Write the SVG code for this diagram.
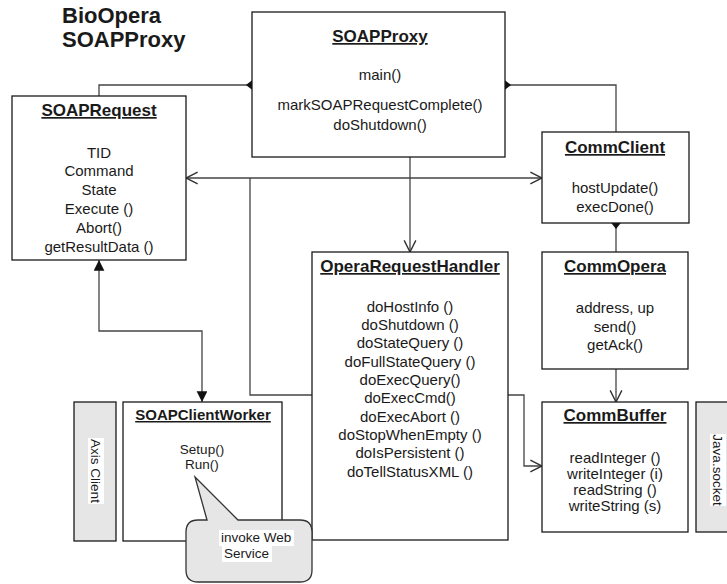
<svg xmlns="http://www.w3.org/2000/svg" width="727" height="584" viewBox="0 0 727 584">
<style>
  .box { fill: #ffffff; stroke: #1a1a1a; stroke-width: 1.3; }
  .side { fill: #e6e6e6; stroke: #1a1a1a; stroke-width: 1.3; }
  .t { font-family: "Liberation Sans", Arial, sans-serif; fill: #1a1a1a; text-anchor: middle; }
  .title { font-size: 17px; font-weight: bold; text-decoration: underline; }
  .body { font-size: 15px; }
  .small { font-size: 13.5px; }
  .conn { fill: none; stroke: #444; stroke-width: 1.3; }
  .head { font-family: "Liberation Sans", Arial, sans-serif; font-size: 22px; font-weight: bold; fill: #1a1a1a; }
</style>
<defs>
  <marker id="open" markerUnits="userSpaceOnUse" markerWidth="14" markerHeight="14" refX="10" refY="5" orient="auto-start-reverse" viewBox="-1 -1 12 12">
    <path d="M0,0 L10,5 L0,10" fill="none" stroke="#333" stroke-width="1.2"/>
  </marker>
  <marker id="filled" markerUnits="userSpaceOnUse" markerWidth="12" markerHeight="12" refX="9" refY="4.5" orient="auto-start-reverse" viewBox="0 0 10 10">
    <path d="M0,0 L9,4.5 L0,9 Z" fill="#111"/>
  </marker>
  <marker id="diamond" markerUnits="userSpaceOnUse" markerWidth="12" markerHeight="12" refX="5" refY="4" orient="auto" viewBox="0 0 10 8">
    <path d="M0,4 L5,0 L10,4 L5,8 Z" fill="#111"/>
  </marker>
</defs>

<g id="heading">
  <text class="head" x="62" y="23">BioOpera</text>
  <text class="head" x="62" y="47">SOAPProxy</text>
</g>

<g id="connectors">
  <path class="conn" d="M252,85 H99 V96" marker-start="url(#diamond)"/>
  <path class="conn" d="M505,85 H616 V132" marker-start="url(#diamond)"/>
  <path class="conn" d="M410,157 V252" marker-end="url(#open)"/>
  <path class="conn" d="M186,178 H542" marker-start="url(#open)" marker-end="url(#open)"/>
  <path class="conn" d="M312,395 H250 V178"/>
  <path class="conn" d="M508,395 H524 V466 H542" marker-end="url(#open)"/>
  <path class="conn" d="M616,223 V252" marker-start="url(#diamond)"/>
  <path class="conn" d="M616,369 V402" marker-end="url(#open)"/>
  <path class="conn" d="M99,260 V331 H202 V402" marker-start="url(#filled)" marker-end="url(#filled)"/>
</g>

<g id="SOAPProxy">
  <rect class="box" x="252" y="12" width="253" height="145"/>
  <text class="t title" x="380" y="42">SOAPProxy</text>
  <text class="t body" x="380" y="80">main()</text>
  <text class="t body" x="380" y="110">markSOAPRequestComplete()</text>
  <text class="t body" x="380" y="130">doShutdown()</text>
</g>

<g id="SOAPRequest">
  <rect class="box" x="12" y="96" width="174" height="164"/>
  <text class="t title" x="99" y="116">SOAPRequest</text>
  <text class="t body" x="99" y="158">TID</text>
  <text class="t body" x="99" y="176">Command</text>
  <text class="t body" x="99" y="195">State</text>
  <text class="t body" x="99" y="214">Execute ()</text>
  <text class="t body" x="99" y="233">Abort()</text>
  <text class="t body" x="99" y="252">getResultData ()</text>
</g>

<g id="CommClient">
  <rect class="box" x="542" y="132" width="147" height="91"/>
  <text class="t title" x="615" y="153">CommClient</text>
  <text class="t body" x="615" y="193">hostUpdate()</text>
  <text class="t body" x="615" y="212">execDone()</text>
</g>

<g id="OperaRequestHandler">
  <rect class="box" x="312" y="252" width="196" height="288"/>
  <text class="t title" x="410" y="272">OperaRequestHandler</text>
  <text class="t body" x="410" y="312">doHostInfo ()</text>
  <text class="t body" x="410" y="330">doShutdown ()</text>
  <text class="t body" x="410" y="348">doStateQuery ()</text>
  <text class="t body" x="410" y="367">doFullStateQuery ()</text>
  <text class="t body" x="410" y="385">doExecQuery()</text>
  <text class="t body" x="410" y="403">doExecCmd()</text>
  <text class="t body" x="410" y="422">doExecAbort ()</text>
  <text class="t body" x="410" y="440">doStopWhenEmpty ()</text>
  <text class="t body" x="410" y="458">doIsPersistent ()</text>
  <text class="t body" x="410" y="477">doTellStatusXML ()</text>
</g>

<g id="CommOpera">
  <rect class="box" x="542" y="252" width="146" height="117"/>
  <text class="t title" x="615" y="272">CommOpera</text>
  <text class="t body" x="615" y="313">address, up</text>
  <text class="t body" x="615" y="332">send()</text>
  <text class="t body" x="615" y="350">getAck()</text>
</g>

<g id="CommBuffer">
  <rect class="box" x="542" y="402" width="146" height="130"/>
  <text class="t title" x="615" y="421">CommBuffer</text>
  <text class="t body" x="615" y="463">readInteger ()</text>
  <text class="t body" x="615" y="479">writeInteger  (i)</text>
  <text class="t body" x="615" y="495">readString ()</text>
  <text class="t body" x="615" y="511">writeString (s)</text>
</g>

<g id="JavaSocket">
  <rect class="side" x="696" y="402" width="40" height="130"/>
  <g transform="translate(718,470) rotate(90)">
    <rect x="-36" y="-8" width="72" height="16" fill="#ffffff"/>
    <text class="t small" x="0" y="5">Java.socket</text>
  </g>
</g>

<g id="AxisClient">
  <rect class="side" x="74" y="402" width="42" height="139"/>
  <g transform="translate(96,471) rotate(90)">
    <rect x="-33" y="-8" width="66" height="16" fill="#ffffff"/>
    <text class="t small" x="0" y="5">Axis Client</text>
  </g>
</g>

<g id="SOAPClientWorker">
  <rect class="box" x="123" y="402" width="159" height="139"/>
  <text class="t title" x="203" y="420" style="font-size:15px">SOAPClientWorker</text>
  <text class="t small" x="202" y="454">Setup()</text>
  <text class="t small" x="202" y="469">Run()</text>
</g>

<g id="callout">
  <path d="M207,520 L195,477 L238,520 H300 Q312,520 312,532 V570 Q312,582 300,582 H198 Q186,582 186,570 V532 Q186,520 198,520 Z" fill="#e6e6e6" stroke="#333" stroke-width="1.3"/>
  <rect x="219" y="530" width="75" height="16" fill="#ffffff"/>
  <rect x="222" y="546" width="50" height="16" fill="#ffffff"/>
  <text class="t small" x="221" y="542" style="text-anchor:start">invoke Web</text>
  <text class="t small" x="224" y="558" style="text-anchor:start">Service</text>
</g>
</svg>
